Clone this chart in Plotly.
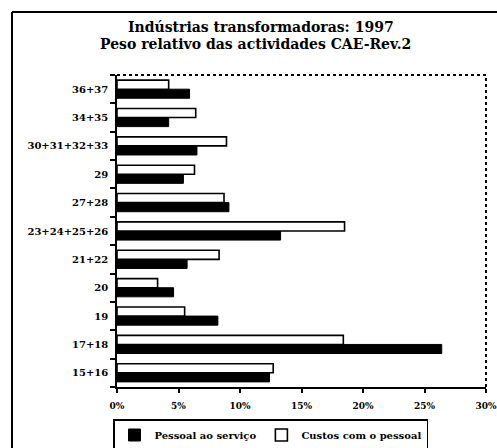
import plotly.graph_objects as go

categories = ["15+16", "17+18", "19", "20", "21+22", "23+24+25+26",
              "27+28", "29", "30+31+32+33", "34+35", "36+37"]
pessoal = [12.4, 26.4, 8.2, 4.6, 5.7, 13.3, 9.1, 5.4, 6.5, 4.2, 5.9]
custos = [12.7, 18.4, 5.5, 3.3, 8.3, 18.5, 8.7, 6.3, 8.9, 6.4, 4.2]
x_ticks = [0, 5, 10, 15, 20, 25, 30]
x_tick_labels = ["0%", "5%", "10%", "15%", "20%", "25%", "30%"]

W, H = 497, 448
L, R, T, B = 117, 11, 75, 61
pw, ph = W - L - R, H - T - B


def px_x(px):
    return (px - L) / pw


def px_y(py):
    return (H - B - py) / ph


FONT = "DejaVu Serif"

fig = go.Figure()
fig.add_trace(go.Bar(
    y=categories, x=pessoal, orientation="h", name="Pessoal ao serviço",
    marker=dict(color="black", line=dict(color="black", width=1)),
))
fig.add_trace(go.Bar(
    y=categories, x=custos, orientation="h", name="Custos com o pessoal",
    marker=dict(color="white", line=dict(color="black", width=1.6)),
))

fig.update_layout(
    width=W, height=H,
    margin=dict(l=L, r=R, t=T, b=B, autoexpand=False),
    paper_bgcolor="white", plot_bgcolor="white",
    barmode="group", bargap=0.36, bargroupgap=0.0,
    font=dict(family=FONT, color="black"),
    showlegend=True,
    legend=dict(
        orientation="h", x=px_x(113), y=px_y(419), xanchor="left", yanchor="top",
        bordercolor="black", borderwidth=1.5, bgcolor="white",
        font=dict(family=FONT, size=10, color="black", weight="bold"),
        itemwidth=30, tracegroupgap=0, traceorder="normal",
    ),
    xaxis=dict(
        range=[0, 30], tickvals=x_ticks, ticktext=x_tick_labels,
        showgrid=False, zeroline=False, showline=True, linecolor="black", linewidth=1.5,
        ticks="outside", ticklen=4, tickcolor="black", tickwidth=1.5,
        ticklabelstandoff=5,
        tickfont=dict(family=FONT, size=9, color="black", weight="bold"),
        fixedrange=True, automargin=False,
    ),
    yaxis=dict(
        categoryorder="array", categoryarray=categories,
        showgrid=False, zeroline=False, showline=True, linecolor="black", linewidth=1.5,
        ticks="outside", ticklen=5, tickcolor="black", tickwidth=1.5,
        tickson="boundaries", ticklabelstandoff=5,
        tickfont=dict(family=FONT, size=10, color="black", weight="bold"),
        fixedrange=True, automargin=False,
    ),
    annotations=[
        dict(text="Indústrias transformadoras: 1997", xref="paper", yref="paper",
             x=px_x(261), y=px_y(27), xanchor="center", yanchor="middle", showarrow=False,
             font=dict(family=FONT, size=14, color="black", weight="bold")),
        dict(text="Peso relativo das actividades CAE-Rev.2", xref="paper", yref="paper",
             x=px_x(255), y=px_y(44), xanchor="center", yanchor="middle", showarrow=False,
             font=dict(family=FONT, size=14, color="black", weight="bold")),
    ],
    shapes=[
        # dotted plot border top and right
        dict(type="line", xref="paper", yref="paper", x0=0, x1=1, y0=1, y1=1,
             line=dict(color="black", width=2, dash="dot")),
        dict(type="line", xref="paper", yref="paper", x0=1, x1=1, y0=0, y1=1,
             line=dict(color="black", width=2, dash="dot")),
        # outer frame (left and top)
        dict(type="line", xref="paper", yref="paper", x0=px_x(12), x1=px_x(12),
             y0=px_y(12), y1=px_y(450), line=dict(color="black", width=2)),
        dict(type="line", xref="paper", yref="paper", x0=px_x(12), x1=px_x(500),
             y0=px_y(12), y1=px_y(12), line=dict(color="black", width=2)),
    ],
)

fig.write_html("out.html", config={"displayModeBar": False},
               post_script="document.body.style.margin='0px';")
